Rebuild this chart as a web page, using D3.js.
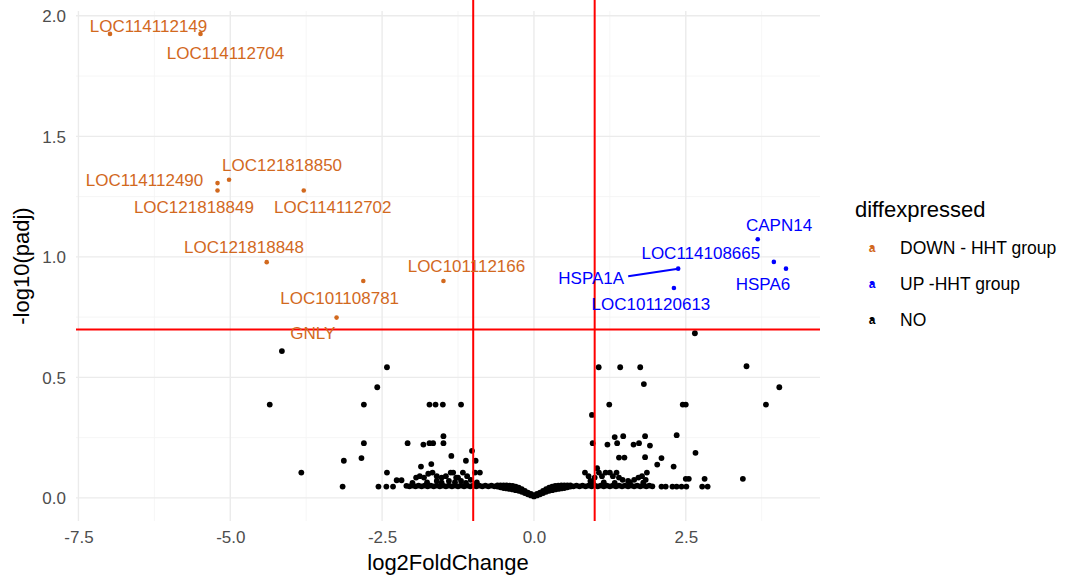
<!DOCTYPE html>
<html>
<head>
<meta charset="utf-8">
<script src="https://cdn.jsdelivr.net/npm/d3@7"></script>
<style>
  body { margin: 0; background: #fff; }
  text { font-family: "Liberation Sans", Arial, sans-serif; }
</style>
</head>
<body>
<div id="volcano"></div>
<script>
// significant genes, down in HHT group
const downGenes = ["LOC114112149", "LOC114112704", "LOC121818850", "LOC114112490", "LOC121818849",
  "LOC114112702", "LOC121818848", "LOC101108781", "LOC101112166", "GNLY"];
const downLog2FC = [-6.98, -5.49, -5.02, -5.21, -5.21, -3.79, -4.40, -2.81, -1.49, -3.25];
const downLogPadj = [1.925, 1.925, 1.32, 1.306, 1.275, 1.275, 0.978, 0.9, 0.9, 0.748];

// significant genes, up in HHT group
const upGenes = ["CAPN14", "LOC114108665", "HSPA6", "HSPA1A", "LOC101120613"];
const upLog2FC = [3.685, 3.95, 4.15, 2.375, 2.305];
const upLogPadj = [1.073, 0.979, 0.951, 0.951, 0.871];

// non significant genes, scattered ones
const noScattered = [
  [-4.15, 0.609], [-4.35, 0.387], [-3.83, 0.105], [-3.13, 0.154], [-3.15, 0.047], [-2.84, 0.165],
  [-2.80, 0.227], [-2.80, 0.387], [-2.58, 0.459], [-2.42, 0.542], [-2.42, 0.105], [-2.56, 0.047],
  [-2.43, 0.047], [-2.32, 0.047], [-2.26, 0.073], [-2.18, 0.073], [-2.08, 0.227], [-1.86, 0.130],
  [-1.82, 0.221], [-1.72, 0.227], [-1.66, 0.227], [-1.72, 0.387], [-1.62, 0.387], [-1.50, 0.387],
  [-1.69, 0.140], [-1.49, 0.256], [-1.49, 0.227], [-1.36, 0.174], [-1.20, 0.387], [-1.12, 0.154],
  [-1.02, 0.195], [-0.96, 0.154],
  [0.955, 0.344], [0.967, 0.227], [1.04, 0.123], [1.066, 0.542], [1.21, 0.221], [1.24, 0.387],
  [1.33, 0.252], [1.37, 0.227], [1.40, 0.167], [1.42, 0.542], [1.47, 0.256], [1.49, 0.167],
  [1.64, 0.221], [1.73, 0.227], [1.75, 0.542], [1.81, 0.472], [1.83, 0.256], [1.83, 0.169],
  [1.91, 0.217], [2.03, 0.138], [2.10, 0.165], [2.30, 0.130], [2.35, 0.260], [2.45, 0.387],
  [2.50, 0.387], [2.66, 0.187], [2.65, 0.683], [3.50, 0.546], [3.82, 0.387], [4.04, 0.459],
  [3.44, 0.079], [2.50, 0.079], [2.55, 0.079], [2.81, 0.079], [2.77, 0.047], [2.86, 0.047],
  [2.10, 0.047], [2.17, 0.047], [2.28, 0.047], [2.35, 0.047], [2.43, 0.047], [2.51, 0.047]
];

// non significant genes, the small bumps on top of the dense band
const noBumps = [
  [-1.94, 0.084], [-1.88, 0.09], [-1.81, 0.084], [-1.74, 0.10], [-1.67, 0.105], [-1.60, 0.09],
  [-1.52, 0.084], [-1.45, 0.09], [-1.37, 0.105], [-1.33, 0.105], [-1.28, 0.084], [-1.25, 0.084],
  [-1.17, 0.105], [-1.10, 0.09], [-1.04, 0.075], [-0.97, 0.105], [-0.89, 0.105], [-1.60, 0.07],
  [-1.40, 0.07], [-1.20, 0.07], [-2.00, 0.062], [-1.76, 0.064], [-1.52, 0.063], [-1.30, 0.065],
  [-1.12, 0.062], [-0.94, 0.064],
  [0.84, 0.105], [0.90, 0.09], [0.93, 0.07], [1.00, 0.084], [1.07, 0.105], [1.12, 0.09],
  [1.18, 0.105], [1.25, 0.105], [1.30, 0.09], [1.36, 0.105], [1.40, 0.084], [1.46, 0.075],
  [1.55, 0.07], [1.65, 0.075], [1.72, 0.084], [1.78, 0.09], [1.84, 0.075], [1.86, 0.105],
  [0.97, 0.063], [1.15, 0.064], [1.33, 0.062], [1.58, 0.064], [1.80, 0.063]
];

// non significant genes, the dense band near padj = 1 and its dip at zero
const noBand = [
  [-2.10, 0.050], [-2.05, 0.048], [-2.00, 0.051], [-1.95, 0.048], [-1.90, 0.051], [-1.85, 0.048],
  [-1.80, 0.051], [-1.75, 0.048], [-1.70, 0.051], [-1.65, 0.048], [-1.60, 0.051], [-1.55, 0.048],
  [-1.50, 0.051], [-1.45, 0.048], [-1.40, 0.051], [-1.35, 0.048], [-1.30, 0.051], [-1.25, 0.048],
  [-1.20, 0.051], [-1.15, 0.048], [-1.10, 0.051], [-1.05, 0.048], [-1.00, 0.051], [-0.95, 0.048],
  [-0.90, 0.051], [-0.85, 0.048], [-0.80, 0.051], [-0.75, 0.048], [-0.70, 0.051], [-0.65, 0.048],
  [-0.60, 0.052], [-0.60, 0.047], [-0.55, 0.052], [-0.55, 0.044], [-0.50, 0.052], [-0.50, 0.041],
  [-0.45, 0.052], [-0.45, 0.039], [-0.40, 0.051], [-0.40, 0.037], [-0.35, 0.050], [-0.35, 0.035],
  [-0.30, 0.047], [-0.30, 0.032], [-0.25, 0.042], [-0.25, 0.029], [-0.20, 0.036], [-0.20, 0.025],
  [-0.15, 0.029], [-0.15, 0.020], [-0.10, 0.022], [-0.10, 0.015], [-0.05, 0.016], [-0.05, 0.010],
  [0.00, 0.011], [0.00, 0.006],
  [0.05, 0.016], [0.05, 0.010], [0.10, 0.022], [0.10, 0.015], [0.15, 0.029], [0.15, 0.020],
  [0.20, 0.036], [0.20, 0.025], [0.25, 0.042], [0.25, 0.029], [0.30, 0.047], [0.30, 0.032],
  [0.35, 0.050], [0.35, 0.035], [0.40, 0.051], [0.40, 0.037], [0.45, 0.052], [0.45, 0.039],
  [0.50, 0.052], [0.50, 0.041], [0.55, 0.052], [0.55, 0.044], [0.60, 0.052], [0.60, 0.047],
  [0.65, 0.048], [0.70, 0.051], [0.75, 0.048], [0.80, 0.051], [0.85, 0.048], [0.90, 0.051],
  [0.95, 0.048], [1.00, 0.051], [1.05, 0.048], [1.10, 0.051], [1.15, 0.048], [1.20, 0.051],
  [1.25, 0.048], [1.30, 0.051], [1.35, 0.048], [1.40, 0.051], [1.45, 0.048], [1.50, 0.051],
  [1.55, 0.048], [1.60, 0.051], [1.65, 0.048], [1.70, 0.051], [1.75, 0.048], [1.80, 0.051],
  [1.85, 0.048], [1.90, 0.051], [1.95, 0.048]
];

const xTicks = [-7.5, -5.0, -2.5, 0.0, 2.5];
const yTicks = [0.0, 0.5, 1.0, 1.5, 2.0];
const fcCutoff = [-1, 1];
const padjCutoff = 0.699;

const legendLabels = ["DOWN - HHT group", "UP -HHT group", "NO"];

// label placement (pixel offsets from the point, like ggrepel did)
const downLabelOffsets = [[38.5, -8.5], [25, 19], [53, -14.5], [-73, -3.6], [-23.6, 16],
  [29, 16], [-22.7, -14.8], [-23.6, 16.8], [23, -15], [-23.7, 15.3]];
const upLabelOffsets = [[21.3, -14.3], [-73, -9], [-23, 15], [-87, 9], [-23, 16]];

const colDown = "#d2691e";
const colUp = "#0000ff";
const colNo = "#000000";

const width = 1066;
const height = 577;
const panel = { left: 76, right: 820, top: 11, bottom: 521 };

const svg = d3
  .select("#volcano")
  .append("svg")
  .attr("width", width)
  .attr("height", height);

svg.append("rect").attr("width", width).attr("height", height).attr("fill", "#fff");

const x = d3.scaleLinear().domain([-7.54, 4.71]).range([panel.left, panel.right]);
const y = d3.scaleLinear().domain([-0.096, 2.02]).range([panel.bottom, panel.top]);

// grid
const minorX = xTicks.map((d) => d + 1.25).filter((d) => x(d) < panel.right);
const minorY = yTicks.map((d) => d + 0.25).filter((d) => y(d) > panel.top);

const grid = svg.append("g");
grid
  .selectAll(".minor-x")
  .data(minorX)
  .enter()
  .append("line")
  .attr("x1", (d) => x(d))
  .attr("x2", (d) => x(d))
  .attr("y1", panel.top)
  .attr("y2", panel.bottom)
  .attr("stroke", "#f4f4f4")
  .attr("stroke-width", 0.8);
grid
  .selectAll(".minor-y")
  .data(minorY)
  .enter()
  .append("line")
  .attr("x1", panel.left)
  .attr("x2", panel.right)
  .attr("y1", (d) => y(d))
  .attr("y2", (d) => y(d))
  .attr("stroke", "#f4f4f4")
  .attr("stroke-width", 0.8);
grid
  .selectAll(".major-x")
  .data(xTicks)
  .enter()
  .append("line")
  .attr("x1", (d) => x(d))
  .attr("x2", (d) => x(d))
  .attr("y1", panel.top)
  .attr("y2", panel.bottom)
  .attr("stroke", "#ebebeb")
  .attr("stroke-width", 1.4);
grid
  .selectAll(".major-y")
  .data(yTicks)
  .enter()
  .append("line")
  .attr("x1", panel.left)
  .attr("x2", panel.right)
  .attr("y1", (d) => y(d))
  .attr("y2", (d) => y(d))
  .attr("stroke", "#ebebeb")
  .attr("stroke-width", 1.4);

// axes, theme_minimal: no lines, no ticks
const xAxis = d3.axisBottom(x).tickValues(xTicks).tickSize(0).tickPadding(0);
const yAxis = d3.axisLeft(y).tickValues(yTicks).tickFormat(d3.format(".1f")).tickSize(0).tickPadding(0);

const gx = svg
  .append("g")
  .attr("transform", `translate(0, ${panel.bottom})`)
  .call(xAxis);
gx.select(".domain").remove();
gx.selectAll("text")
  .attr("y", 22)
  .attr("dy", 0)
  .attr("fill", "#4d4d4d")
  .style("font-size", "17px")
  .text((d) => (d < 0 ? "-" + Math.abs(d).toFixed(1) : d.toFixed(1)));

const gy = svg
  .append("g")
  .attr("transform", `translate(${panel.left - 10}, 0)`)
  .call(yAxis);
gy.select(".domain").remove();
gy.selectAll("text")
  .attr("x", 0)
  .attr("dy", "0.36em")
  .attr("fill", "#4d4d4d")
  .style("font-size", "17px");

svg
  .append("text")
  .attr("x", (panel.left + panel.right) / 2)
  .attr("y", 570)
  .attr("text-anchor", "middle")
  .style("font-size", "22px")
  .text("log2FoldChange");

svg
  .append("text")
  .attr("transform", `translate(29, ${(panel.top + panel.bottom) / 2}) rotate(-90)`)
  .attr("text-anchor", "middle")
  .style("font-size", "22px")
  .text("-log10(padj)");

// points
const noPoints = noBand.concat(noBumps, noScattered);
svg
  .append("g")
  .selectAll("circle")
  .data(noPoints)
  .enter()
  .append("circle")
  .attr("cx", (d) => x(d[0]))
  .attr("cy", (d) => y(d[1]))
  .attr("r", 2.9)
  .attr("fill", colNo);

// threshold lines
svg
  .append("g")
  .selectAll("line")
  .data(fcCutoff)
  .enter()
  .append("line")
  .attr("x1", (d) => x(d))
  .attr("x2", (d) => x(d))
  .attr("y1", 0)
  .attr("y2", panel.bottom)
  .attr("stroke", "#ff0000")
  .attr("stroke-width", 2);

svg
  .append("line")
  .attr("x1", panel.left)
  .attr("x2", panel.right)
  .attr("y1", y(padjCutoff))
  .attr("y2", y(padjCutoff))
  .attr("stroke", "#ff0000")
  .attr("stroke-width", 2);

// labelled genes
const downData = downGenes.map((g, i) => ({
  gene: g, fc: downLog2FC[i], p: downLogPadj[i], off: downLabelOffsets[i], col: colDown
}));
const upData = upGenes.map((g, i) => ({
  gene: g, fc: upLog2FC[i], p: upLogPadj[i], off: upLabelOffsets[i], col: colUp
}));
const sigData = downData.concat(upData);

const sig = svg.append("g");

// a repel segment only where the label was pushed far away
sig
  .selectAll("line")
  .data(sigData.filter((d) => d.gene === "HSPA1A"))
  .enter()
  .append("line")
  .attr("x1", (d) => x(d.fc))
  .attr("y1", (d) => y(d.p))
  .attr("x2", (d) => x(d.fc) + d.off[0] + 37)
  .attr("y2", (d) => y(d.p) + d.off[1] - 1.5)
  .attr("stroke", (d) => d.col)
  .attr("stroke-width", 2);

sig
  .selectAll("circle")
  .data(sigData)
  .enter()
  .append("circle")
  .attr("cx", (d) => x(d.fc))
  .attr("cy", (d) => y(d.p))
  .attr("r", 2.3)
  .attr("fill", (d) => d.col);

sig
  .selectAll("text")
  .data(sigData)
  .enter()
  .append("text")
  .attr("x", (d) => x(d.fc) + d.off[0])
  .attr("y", (d) => y(d.p) + d.off[1])
  .attr("dy", "0.36em")
  .attr("text-anchor", "middle")
  .attr("fill", (d) => d.col)
  .style("font-size", "17px")
  .text((d) => d.gene);

// legend
const legend = svg.append("g").attr("transform", "translate(855, 0)");
legend
  .append("text")
  .attr("x", 0)
  .attr("y", 217)
  .style("font-size", "22px")
  .text("diffexpressed");

const legendCols = [colDown, colUp, colNo];
const items = legend
  .selectAll(".item")
  .data(legendLabels)
  .enter()
  .append("g")
  .attr("transform", (d, i) => `translate(0, ${248 + i * 36})`);

items
  .append("circle")
  .attr("cx", 17)
  .attr("cy", -1)
  .attr("r", 1.8)
  .attr("fill", (d, i) => legendCols[i]);
items
  .append("text")
  .attr("x", 17)
  .attr("y", 0)
  .attr("dy", "0.36em")
  .attr("text-anchor", "middle")
  .attr("fill", (d, i) => legendCols[i])
  .style("font-size", "12px")
  .style("font-weight", "bold")
  .text("a");
items
  .append("text")
  .attr("x", 45)
  .attr("y", 0)
  .attr("dy", "0.36em")
  .style("font-size", "17.5px")
  .text((d) => d);
</script>
</body>
</html>
